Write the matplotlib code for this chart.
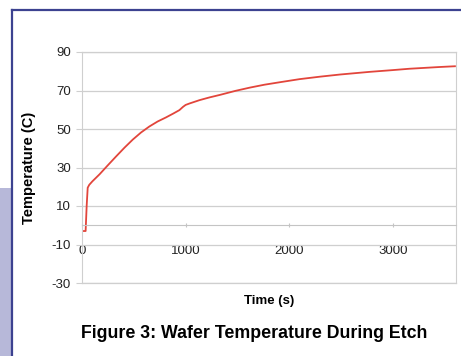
import matplotlib.pyplot as plt
from matplotlib.lines import Line2D
from matplotlib.patches import Rectangle

plt.rcParams['font.family'] = ['Liberation Sans', 'DejaVu Sans']
plt.rcParams['axes.unicode_minus'] = False

# wafer temperature
time_s = [0, 35, 45, 55, 70, 100, 170, 250, 330, 410, 490, 570, 650, 730,
          810, 880, 940, 975, 1000, 1040, 1135, 1230, 1330, 1480, 1620, 1760,
          1910, 2100, 2300, 2490, 2780, 3000, 3160, 3450, 3600]
temp_c = [-3, -3, 10, 19.5, 21, 22.8, 26.5, 31.2, 35.8, 40.3, 44.5, 48.2,
          51.3, 53.9, 56, 58, 59.8, 61.5, 62.5, 63.3, 65, 66.4, 67.7, 69.8,
          71.5, 73, 74.3, 75.9, 77.2, 78.3, 79.7, 80.6, 81.3, 82.2, 82.6]
y_ticks = [-30, -10, 10, 30, 50, 70, 90]
x_ticks = [0, 1000, 2000, 3000]

W, H = 461, 356
fig = plt.figure(figsize=(W / 100, H / 100), dpi=100)

# page decoration: blue frame and lavender strip
fig.add_artist(Rectangle((0, 0), 12 / W, (H - 188) / H, transform=fig.transFigure,
                         facecolor='#b7b8d9', edgecolor='none'))
fig.add_artist(Line2D([12 / W, 12 / W], [0, 1 - 10 / H], transform=fig.transFigure,
                      color='#3c4290', linewidth=1.6))
fig.add_artist(Line2D([12 / W, 1], [1 - 10 / H, 1 - 10 / H], transform=fig.transFigure,
                      color='#3c4290', linewidth=1.6))

ax = fig.add_axes([82 / W, 1 - 283 / H, (456 - 82) / W, (283 - 52) / H])
grid_c = '#cfcfcf'

ax.plot(time_s, temp_c, color='#e2453b', linewidth=1.3)

ax.set_xlim(0, 3610)
ax.set_ylim(-30, 90)
ax.set_yticks(y_ticks)
ax.set_xticks(x_ticks)
ax.yaxis.grid(True, color=grid_c, linewidth=0.9)
ax.set_axisbelow(True)

for s in ['top', 'right', 'left']:
    ax.spines[s].set_color(grid_c)
ax.spines['top'].set_visible(False)
ax.spines['bottom'].set_position(('data', 0))
ax.spines['bottom'].set_color('#c4c4c4')
ax.axhline(-30, color=grid_c, linewidth=0.9, clip_on=False)
ax.axhline(90, color=grid_c, linewidth=0.9, clip_on=False)

ax.tick_params(axis='y', colors=grid_c, labelcolor='#222222', length=4,
               labelsize=9.5, pad=4)
ax.tick_params(axis='x', colors='#c4c4c4', labelcolor='#222222', length=3,
               direction='inout', labelsize=9.5, pad=13)

ax.set_xlabel('Time (s)', fontweight='bold', fontsize=9.5, labelpad=0)
ax.xaxis.set_label_coords(0.5, (283 - 295) / (283 - 52))
ax.set_ylabel('Temperature (C)', fontweight='bold', fontsize=10.5)
ax.yaxis.set_label_coords(-(82 - 36) / (456 - 82), (283 - 168) / (283 - 52))

fig.text(254 / W, 1 - 333 / H, 'Figure 3: Wafer Temperature During Etch',
         ha='center', va='center', fontweight='bold', fontsize=12.8)

fig.savefig('out.png', dpi=100)
